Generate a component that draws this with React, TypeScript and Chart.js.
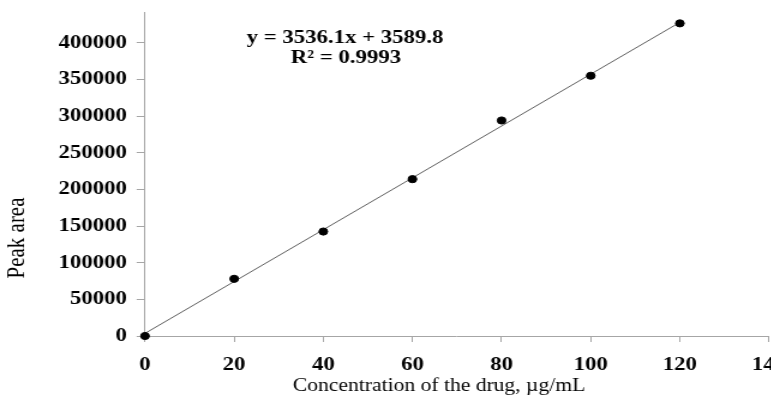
import React, { useEffect, useRef } from "react";
import { Chart, registerables } from "chart.js";

Chart.register(...registerables);

// ---- data ----
const concentrations = [0, 20, 40, 60, 80, 100, 120];
const peakAreas = [0, 78000, 142500, 214000, 294000, 355000, 426500];
const slope = 3536.1;
const intercept = 3589.8;
const equationText = "y = 3536.1x + 3589.8";
const r2Text = "R² = 0.9993";
const xTitle = "Concentration of the drug, µg/mL";
const yTitle = "Peak area";
const xTicks = [0, 20, 40, 60, 80, 100, 120, 140];
const yTicks = [0, 50000, 100000, 150000, 200000, 250000, 300000, 350000, 400000];

const SX = 1.2; // horizontal stretch of the picture
const FONT = '"Liberation Serif", "Times New Roman", serif';
const AXIS = "#a6a6a6";

const textPlugin = {
  id: "textPlugin",
  afterDraw(chart: any) {
    const ctx = chart.ctx;
    ctx.save();
    ctx.fillStyle = "#000";
    ctx.textAlign = "center";
    ctx.textBaseline = "alphabetic";
    ctx.font = `bold 19px ${FONT}`;
    ctx.fillText(equationText, 345 / SX, 43);
    ctx.fillText(r2Text, 346 / SX, 63);
    ctx.font = `18px ${FONT}`;
    ctx.fillText(xTitle, 439 / SX, 391);
    ctx.translate(17 / SX, 238);
    ctx.rotate(-Math.PI / 2);
    ctx.textBaseline = "middle";
    ctx.font = `21px ${FONT}`;
    ctx.fillText(yTitle, 0, 0);
    ctx.restore();
  },
};

export default function App() {
  const ref = useRef<HTMLCanvasElement>(null);
  useEffect(() => {
    const canvas = ref.current!;
    const xEnd = concentrations[concentrations.length - 1];
    const chart = new Chart(canvas, {
      type: "scatter",
      data: {
        datasets: [
          {
            type: "scatter",
            data: concentrations.map((x, i) => ({ x, y: peakAreas[i] })),
            backgroundColor: "#000",
            borderColor: "#000",
            pointRadius: 3.6,
            pointHoverRadius: 3.6,
            order: 0,
            clip: false,
          } as any,
          {
            type: "line",
            data: [
              { x: 0, y: intercept },
              { x: xEnd, y: slope * xEnd + intercept },
            ],
            borderColor: "#606060",
            borderWidth: 1,
            pointRadius: 0,
            fill: false,
            order: 1,
          } as any,
        ],
      },
      options: {
        responsive: false,
        animation: false,
        events: [],
        layout: { padding: { left: 0, right: 660 - 769 / SX, top: 12, bottom: 0 } },
        plugins: { legend: { display: false }, tooltip: { enabled: false } },
        scales: {
          x: {
            type: "linear",
            min: xTicks[0],
            max: xTicks[xTicks.length - 1],
            afterBuildTicks: (s: any) => {
              s.ticks = xTicks.map((v) => ({ value: v }));
            },
            afterFit: (s: any) => {
              s.height = 395 - 336;
              s.paddingLeft = 0;
              s.paddingRight = 0;
            },
            grid: { display: true, drawOnChartArea: false, drawTicks: true, tickLength: 6, color: AXIS },
            border: { display: true, color: AXIS, width: 1 },
            ticks: {
              padding: 12,
              color: "#000",
              font: { family: FONT, size: 19, weight: "bold" },
              maxRotation: 0,
              callback: (v: any) => String(v),
            },
          },
          y: {
            type: "linear",
            min: 0,
            max: 442000,
            afterBuildTicks: (s: any) => {
              s.ticks = yTicks.map((v) => ({ value: v }));
            },
            afterFit: (s: any) => {
              s.width = 145 / SX;
              s.paddingTop = 0;
              s.paddingBottom = 0;
            },
            grid: { display: true, drawOnChartArea: false, drawTicks: true, tickLength: 7, color: AXIS },
            border: { display: true, color: AXIS, width: 1 },
            ticks: {
              padding: 8,
              color: "#000",
              font: { family: FONT, size: 19, weight: "bold" },
              callback: (v: any) => String(v),
            },
          },
        },
      },
      plugins: [textPlugin],
    });
    return () => chart.destroy();
  }, []);
  return (
    <div
      style={{
        position: "fixed",
        left: 0,
        top: 0,
        width: 771,
        height: 395,
        overflow: "hidden",
        background: "#fff",
      }}
    >
      <canvas
        ref={ref}
        width={660}
        height={395}
        style={{
          width: 660,
          height: 395,
          transform: `scaleX(${SX})`,
          transformOrigin: "0 0",
        }}
      />
    </div>
  );
}
